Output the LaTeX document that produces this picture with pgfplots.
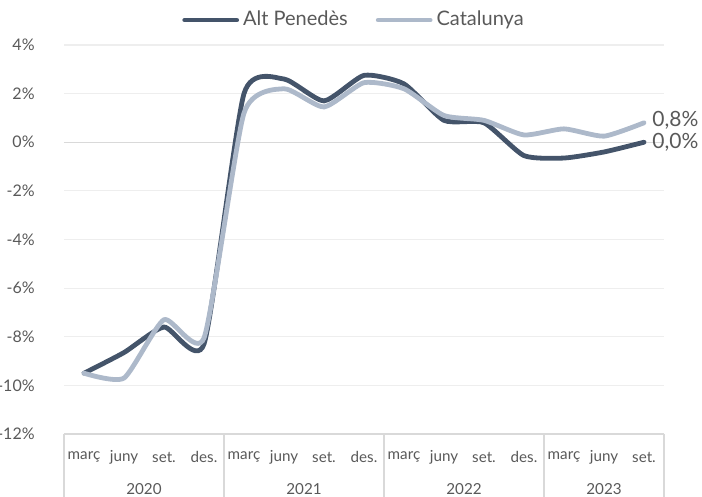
\documentclass[border=0pt]{standalone}
\usepackage{pgfplots}
\pgfplotsset{compat=1.18}
\usepackage{fontspec}
\setmainfont{Lato}
\definecolor{darkser}{HTML}{44546A}
\definecolor{lightser}{HTML}{ADB9CA}
\definecolor{txt}{HTML}{595959}
\definecolor{grd}{HTML}{EEEEEE}
\definecolor{sep}{HTML}{D9D9D9}
\begin{document}
\begin{tikzpicture}
\begin{axis}[
  name=ax, at={(0,0)}, anchor=south west,
  scale only axis, width=300pt, height=194.5pt,
  xmin=-0.5, xmax=14.5, ymin=-12, ymax=4,
  axis line style={draw=none},
  tick style={draw=none},
  clip=false,
  ytick={-12,-10,-8,-6,-4,-2,0,2,4},
  yticklabels={-12\%,-10\%,-8\%,-6\%,-4\%,-2\%,0\%,2\%,4\%},
  yticklabel style={font=\fontsize{8}{10}\selectfont, text=txt, anchor=east, inner sep=0pt, xshift=-14.5pt},
  xtick={0,...,14},
  xticklabels={març,juny,set.,des.,març,juny,set.,des.,març,juny,set.,des.,març,juny,set.},
  xticklabel style={font=\fontsize{7.6}{9}\selectfont, text=txt, anchor=center, yshift=-11.5pt},
  major tick length=0pt,
  ymajorgrids, grid style={grd, line width=0.6pt},
  legend columns=2,
  legend style={draw=none, fill=none, at={(0.485,1.064)}, anchor=center,
    font=\fontsize{10}{12}\selectfont, text=txt,
    /tikz/every even column/.style={column sep=12pt}},
  legend image code/.code={\draw[#1, line width=2.4pt, line cap=round] (0pt,0pt) -- (26pt,0pt);},
]
\draw[sep, line width=0.6pt] (axis cs:-0.5,0) -- (axis cs:14.5,0);
\draw[sep, line width=0.6pt] (axis cs:-0.5,-12) -- (axis cs:14.5,-12);
\pgfplotsinvokeforeach{-0.5,3.5,7.5,11.5,14.5}{
  \draw[sep, line width=0.6pt] (axis cs:#1,-12) -- ([yshift=-31.5pt]axis cs:#1,-12);
}
\addplot[darkser, line width=2.4pt, smooth, tension=0.35, line cap=round] coordinates {
 (0,-9.5) (1,-8.65) (2,-7.6) (3,-8.3) (4,2.0) (5,2.6) (6,1.7) (7,2.75)
 (8,2.4) (9,0.9) (10,0.8) (11,-0.55) (12,-0.65) (13,-0.4) (14,0.0)};
\addlegendentry{Alt Penedès}
\addplot[lightser, line width=2.4pt, smooth, tension=0.35, line cap=round] coordinates {
 (0,-9.5) (1,-9.7) (2,-7.3) (3,-8.05) (4,1.2) (5,2.2) (6,1.45) (7,2.45)
 (8,2.2) (9,1.1) (10,0.9) (11,0.3) (12,0.55) (13,0.25) (14,0.8)};
\addlegendentry{Catalunya}
\node[anchor=west, text=txt, font=\fontsize{10.5}{12}\selectfont, inner sep=0pt, xshift=4pt, yshift=1pt] at (axis cs:14,0.8) {0,8\%};
\node[anchor=west, text=txt, font=\fontsize{10.5}{12}\selectfont, inner sep=0pt, xshift=4pt] at (axis cs:14,0) {0,0\%};
\node[text=txt, font=\fontsize{7.6}{9}\selectfont] at ([yshift=-27.5pt]axis cs:1.5,-12) {2020};
\node[text=txt, font=\fontsize{7.6}{9}\selectfont] at ([yshift=-27.5pt]axis cs:5.5,-12) {2021};
\node[text=txt, font=\fontsize{7.6}{9}\selectfont] at ([yshift=-27.5pt]axis cs:9.5,-12) {2022};
\node[text=txt, font=\fontsize{7.6}{9}\selectfont] at ([yshift=-27.5pt]axis cs:13,-12) {2023};
\end{axis}
\pgfresetboundingbox
\useasboundingbox (-32pt,-31.5pt) rectangle (319pt,217pt);
\end{tikzpicture}
\end{document}
